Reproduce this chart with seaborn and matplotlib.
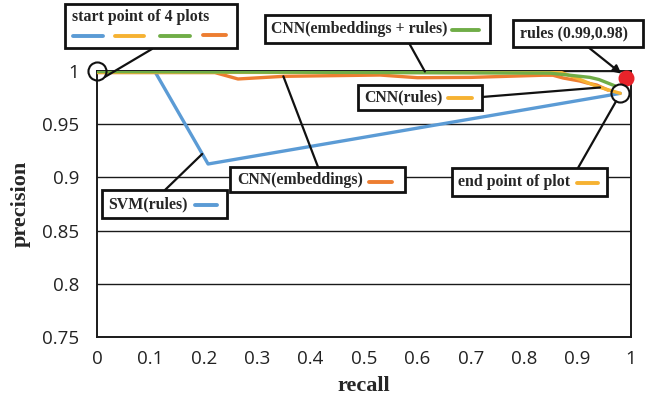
import matplotlib
matplotlib.use("Agg")
import matplotlib.pyplot as plt
import matplotlib.transforms as mtransforms
import seaborn as sns
import pandas as pd
from matplotlib.patches import Rectangle, ConnectionPatch
from matplotlib.lines import Line2D

# ---- data ----
svm_rules_x = [0.0, 0.109, 0.208, 0.98]
svm_rules_y = [0.999, 0.999, 0.9126, 0.979]
cnn_emb_x = [0.0, 0.221, 0.264, 0.35, 0.53, 0.60, 0.70, 0.835, 0.854, 0.873, 0.904, 0.918, 0.936, 0.957]
cnn_emb_y = [0.9985, 0.9985, 0.9925, 0.995, 0.9962, 0.9937, 0.994, 0.996, 0.996, 0.9934, 0.9906, 0.9887, 0.9868, 0.982]
cnn_rules_x = [0.0, 0.87, 0.90, 0.936, 0.98]
cnn_rules_y = [0.9988, 0.9985, 0.993, 0.9855, 0.979]
cnn_both_x = [0.0, 0.848, 0.886, 0.923, 0.94, 0.95, 0.96, 0.97]
cnn_both_y = [0.9995, 0.998, 0.996, 0.994, 0.992, 0.990, 0.988, 0.986]
rules_point = (0.99, 0.9935)
end_point = (0.98, 0.979)
start_point = (0.0, 1.0)

series = ["SVM(rules)", "CNN(embeddings)", "CNN(rules)", "CNN(embeddings + rules)"]
colors = ["#5B9BD5", "#ED7D31", "#F6B232", "#70AD47"]
x_ticks = [0, 0.1, 0.2, 0.3, 0.4, 0.5, 0.6, 0.7, 0.8, 0.9, 1]
x_tick_labels = ["0", "0.1", "0.2", "0.3", "0.4", "0.5", "0.6", "0.7", "0.8", "0.9", "1"]
y_ticks = [0.75, 0.8, 0.85, 0.9, 0.95, 1.0]
y_tick_labels = ["0.75", "0.8", "0.85", "0.9", "0.95", "1"]

frames = []
for name, xs, ys in zip(series,
                        [svm_rules_x, cnn_emb_x, cnn_rules_x, cnn_both_x],
                        [svm_rules_y, cnn_emb_y, cnn_rules_y, cnn_both_y]):
    frames.append(pd.DataFrame({"recall": xs, "precision": ys, "model": name}))
df = pd.concat(frames, ignore_index=True)

sns.set_style("white")
W, H = 649, 407
fig = plt.figure(figsize=(W / 100, H / 100), dpi=100)
ax = fig.add_axes([97 / W, 1 - 337 / H, (631 - 97) / W, (337 - 71) / H])

sns.lineplot(data=df, x="recall", y="precision", hue="model", hue_order=series,
             palette=colors, estimator=None, sort=False, linewidth=2.4,
             legend=False, ax=ax, zorder=3)

ax.set_xlim(0, 1)
ax.set_ylim(0.75, 1.0)
ax.set_xticks(x_ticks)
ax.set_xticklabels(x_tick_labels)
ax.set_yticks(y_ticks)
ax.set_yticklabels(y_tick_labels)
for lab in ax.get_xticklabels() + ax.get_yticklabels():
    lab.set_fontfamily(["Open Sans", "DejaVu Sans"])
    lab.set_fontsize(13.5)
    lab.set_color("#222222")
ax.tick_params(axis="both", length=0)
ax.tick_params(axis="y", pad=13)
ax.tick_params(axis="x", pad=9)
for y in y_ticks:
    ax.axhline(y, color="#1a1a1a", lw=1.0, zorder=1)
for s in ax.spines.values():
    s.set_visible(True)
    s.set_color("#1a1a1a")
    s.set_linewidth(1.4)

serif = ["Liberation Serif", "DejaVu Serif"]
ax.set_xlabel("recall", fontfamily=serif, fontweight="bold", fontsize=16, labelpad=6)
ax.set_ylabel("precision", fontfamily=serif, fontweight="bold", fontsize=16, labelpad=8)

# markers: red rules point and the circles
ax.plot([rules_point[0]], [rules_point[1]], "o", color="#E8232A", markersize=10.5,
        clip_on=False, zorder=6)
ax.plot([start_point[0]], [start_point[1]], "o", mfc="none", mec="#111111", mew=1.5,
        markersize=13, clip_on=False, zorder=6)
ax.plot([end_point[0]], [end_point[1]], "o", mfc="none", mec="#111111", mew=1.5,
        markersize=13, clip_on=False, zorder=6)


def P(x, y):
    return (x, H - y)


def box(x0, y0, x1, y1, text, tx, ty, dash=None, dash_colors=None):
    r = Rectangle(P(x0, y1), x1 - x0, y1 - y0,
                  transform=mtransforms.IdentityTransform(), fill=True,
                  facecolor="white", edgecolor="#111111", lw=2.0, zorder=7)
    fig.add_artist(r)
    fig.text(tx / W, 1 - ty / H, text, fontfamily=serif, fontweight="bold",
             fontsize=11.4, va="center", ha="left", zorder=8)
    if dash is not None:
        for (dx0, dx1, dy), c in zip(dash, dash_colors):
            fig.add_artist(Line2D([dx0 / W, dx1 / W], [1 - dy / H, 1 - dy / H],
                                  transform=fig.transFigure, color=c, lw=2.8, zorder=8))


def connect(px, py, data_xy, arrow=False):
    cp = ConnectionPatch(xyA=P(px, py), coordsA="figure pixels",
                         xyB=data_xy, coordsB=ax.transData,
                         color="#111111", lw=1.6, zorder=5,
                         arrowstyle="-|>" if arrow else "-", mutation_scale=12)
    fig.add_artist(cp)


# connectors first (under boxes)
connect(152, 49, (0.015, 0.9945))
connect(409, 43, (0.614, 0.9995))
connect(588, 47, (0.982, 0.9975), arrow=True)
connect(482, 97, (0.942, 0.9845))
connect(318, 167, (0.349, 0.995))
connect(165, 190, (0.197, 0.922))
connect(578, 168, (0.972, 0.9715))

# boxes
box(65, 4, 237, 48, "start point of 4 plots", 72, 17,
    dash=[(73, 103, 36), (115, 144, 36), (160, 190, 36), (203, 226, 35)],
    dash_colors=[colors[0], colors[2], colors[3], colors[1]])
box(265, 15, 490, 43, "CNN(embeddings + rules)", 271, 29,
    dash=[(452, 479, 30)], dash_colors=[colors[3]])
box(513, 20, 643, 47, "rules (0.99,0.98)", 520, 33)
box(358, 85, 482, 110, "CNN(rules)", 364, 97,
    dash=[(448, 472, 98)], dash_colors=[colors[2]])
box(230, 167, 405, 192, "CNN(embeddings)", 237, 180,
    dash=[(369, 392, 182)], dash_colors=[colors[1]])
box(102, 190, 227, 218, "SVM(rules)", 108, 204,
    dash=[(195, 217, 205)], dash_colors=[colors[0]])
box(452, 168, 607, 196, "end point of plot", 458, 182,
    dash=[(577, 598, 183)], dash_colors=[colors[2]])

fig.savefig("out.png", dpi=100)
